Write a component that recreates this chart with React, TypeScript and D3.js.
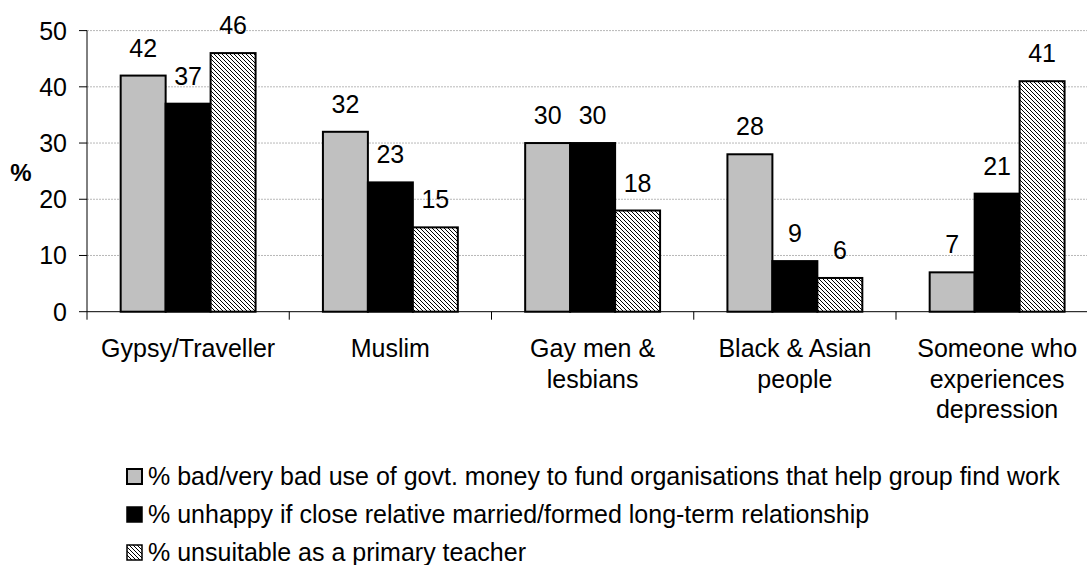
import React from "react";
import * as d3 from "d3";

const categories: string[][] = [
  ["Gypsy/Traveller"],
  ["Muslim"],
  ["Gay men &", "lesbians"],
  ["Black & Asian", "people"],
  ["Someone who", "experiences", "depression"],
];
const seriesNames = [
  "% bad/very bad use of govt. money to fund organisations that help group find work",
  "% unhappy if close relative married/formed long-term relationship",
  "% unsuitable as a primary teacher",
];
const govtMoney = [42, 32, 30, 28, 7];
const unhappyRelative = [37, 23, 30, 9, 21];
const unsuitableTeacher = [46, 15, 18, 6, 41];
const yTicks = [0, 10, 20, 30, 40, 50];

const W = 1087;
const H = 565;
const FONT = "'Liberation Sans', Arial, sans-serif";

export default function App() {
  const seriesValues = [govtMoney, unhappyRelative, unsuitableTeacher];
  const fills = ["#c0c0c0", "#000000", "url(#hatch)"];
  const catKeys = categories.map((c) => c.join(" "));

  const x0 = d3.scaleBand<string>().domain(catKeys).range([87, 87 + 5 * 202.25]).padding(0);
  const groupW = x0.bandwidth() * 0.667;
  const x1 = d3.scaleBand<number>().domain([0, 1, 2]).range([0, groupW]).padding(0);
  const y = d3.scaleLinear().domain([0, 50]).range([311.7, 30.6]);
  const y0 = y(0);

  return (
    <svg
      width={W}
      height={H}
      style={{ position: "absolute", left: 0, top: 0, background: "#fff" }}
      fontFamily={FONT}
    >
      <defs>
        <pattern id="hatch" width={4} height={4} patternUnits="userSpaceOnUse">
          <rect width={4} height={4} fill="#fff" />
          <path d="M-1,-1 L5,5 M3,-1 L5,1 M-1,3 L1,5" stroke="#000" strokeWidth={1} />
        </pattern>
      </defs>
      <rect width={W} height={H} fill="#fff" />
      {/* gridlines */}
      {yTicks.filter((t) => t > 0).map((t) => (
        <line key={t} x1={87} x2={W} y1={y(t)} y2={y(t)} stroke="#b8b8b8" strokeWidth={1} strokeDasharray="2,1" />
      ))}
      {/* bars */}
      {catKeys.map((c, ci) => {
        const gx = (x0(c) as number) + (x0.bandwidth() - groupW) / 2;
        return seriesValues.map((vals, si) => {
          const v = vals[ci];
          const bx = gx + (x1(si) as number);
          return (
            <g key={c + si}>
              <rect
                x={bx}
                y={y(v)}
                width={x1.bandwidth()}
                height={y0 - y(v)}
                fill={fills[si]}
                stroke="#000"
                strokeWidth={2}
              />
              <text x={bx + x1.bandwidth() / 2} y={y(v) - 19} textAnchor="middle" fontSize={25} fill="#000">
                {v}
              </text>
            </g>
          );
        });
      })}
      {/* axes */}
      <line x1={87} x2={87} y1={y(50)} y2={y0} stroke="#000" strokeWidth={1} />
      <line x1={87} x2={W} y1={y0} y2={y0} stroke="#000" strokeWidth={1} />
      {yTicks.map((t) => (
        <g key={"yt" + t}>
          <line x1={79} x2={87} y1={y(t)} y2={y(t)} stroke="#000" strokeWidth={1} />
          <text x={67} y={y(t) + 9} textAnchor="end" fontSize={25} fill="#000">
            {t}
          </text>
        </g>
      ))}
      <text x={21} y={181} textAnchor="middle" fontSize={24} fontWeight="bold" fill="#000">
        %
      </text>
      {catKeys.map((c, ci) => {
        const xs = x0(c) as number;
        return (
          <g key={"xt" + c}>
            <line x1={xs} x2={xs} y1={y0} y2={y0 + 8} stroke="#000" strokeWidth={1} />
            <text x={xs + x0.bandwidth() / 2} textAnchor="middle" fontSize={25} fill="#000">
              {categories[ci].map((line, li) => (
                <tspan key={li} x={xs + x0.bandwidth() / 2} y={357 + li * 30.5}>
                  {line}
                </tspan>
              ))}
            </text>
          </g>
        );
      })}
      {/* legend */}
      {seriesNames.map((name, si) => {
        const by = 485 + si * 38;
        return (
          <g key={"lg" + si}>
            <rect x={127} y={by - 16} width={15} height={15} fill={fills[si]} stroke="#000" strokeWidth={si === 0 ? 2 : 1.5} />
            <text x={148} y={by} fontSize={25} fill="#000">
              {name}
            </text>
          </g>
        );
      })}
    </svg>
  );
}
